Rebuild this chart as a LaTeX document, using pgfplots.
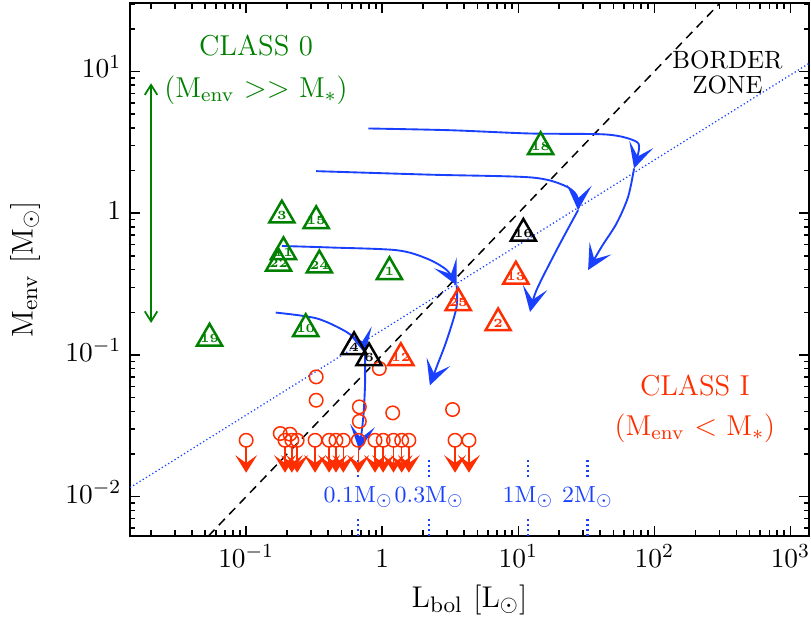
\documentclass[border=0pt]{standalone}
\usepackage{pgfplots}
\pgfplotsset{compat=1.18}
\usetikzlibrary{arrows.meta}
\definecolor{cgreen}{rgb}{0,0.5,0}
\definecolor{cred}{rgb}{1,0.18,0}
\definecolor{cblue}{rgb}{0.1,0.25,1}

\pgfdeclareplotmark{tri}{%
  \pgfpathmoveto{\pgfqpointpolar{90}{\pgfplotmarksize}}%
  \pgfpathlineto{\pgfqpointpolar{-30}{\pgfplotmarksize}}%
  \pgfpathlineto{\pgfqpointpolar{210}{\pgfplotmarksize}}%
  \pgfpathclose\pgfusepathqstroke}

\pgfdeclareplotmark{ulim}{%
  \pgfpathcircle{\pgfpointorigin}{2.7pt}\pgfusepathqstroke
  \pgfpathmoveto{\pgfpoint{0pt}{-2.7pt}}%
  \pgfpathlineto{\pgfpoint{0pt}{-10.5pt}}\pgfusepathqstroke
  \pgfpathmoveto{\pgfpoint{0pt}{-12.4pt}}%
  \pgfpathlineto{\pgfpoint{-3.3pt}{-7.1pt}}%
  \pgfpathlineto{\pgfpoint{0pt}{-9.5pt}}%
  \pgfpathlineto{\pgfpoint{3.3pt}{-7.1pt}}%
  \pgfpathclose\pgfusepathqfillstroke}

\pgfplotstableread{
x y label
0.183 0.968 3
0.327 0.883 15
0.173 0.442 22
0.188 0.533 11
0.345 0.43 24
0.274 0.153 10
0.0538 0.131 19
14.6 2.94 18
1.13 0.386 1
}\greentri
\pgfplotstableread{
x y label
10.9 0.72 16
0.621 0.114 4
0.80 0.0953 6
}\blacktri
\pgfplotstableread{
x y label
9.6 0.359 13
3.62 0.233 25
7.11 0.168 2
1.37 0.0955 12
}\redtri
\pgfplotstableread{
x y
0.178 0.0279
0.210 0.0276
0.327 0.070
0.327 0.0479
0.952 0.0802
0.679 0.043
0.679 0.034
1.194 0.039
3.29 0.0412
}\detect
\pgfplotstableread{
x y
0.1 0.025
0.193 0.025
0.2166 0.025
0.237 0.025
0.321 0.025
0.407 0.025
0.457 0.025
0.518 0.025
0.667 0.025
0.885 0.025
1.016 0.025
1.21 0.025
1.39 0.025
1.57 0.025
3.43 0.025
4.34 0.025
}\ulims

\pgfplotsset{
  trilab/.style={only marks, mark=tri, mark size=5.8pt, mark options={line width=1pt},
    nodes near coords, point meta=explicit symbolic,
    every node near coord/.append style={anchor=center, inner sep=0pt, font=\fontsize{5}{5}\selectfont\bfseries}},
  trk/.style={cblue, line width=0.75pt, smooth, -{Stealth[length=10pt,width=10pt,inset=5pt]}},
  mm/.style={cblue, line width=0.9pt, dash pattern=on 0.8pt off 1.2pt},
}

\begin{document}
\begin{tikzpicture}
\begin{axis}[
  scale only axis, width=271.6pt, height=213.2pt,
  xmode=log, ymode=log,
  xmin=0.014, xmax=1370, ymin=0.00528, ymax=30.4,
  xtick={0.1,1,10,100,1000},
  xticklabels={$10^{-1}$,$1$,$10^{1}$,$10^{2}$,$10^{3}$},
  minor xtick={0.02,0.03,0.04,0.05,0.06,0.07,0.08,0.09,0.2,0.3,0.4,0.5,0.6,0.7,0.8,0.9,2,3,4,5,6,7,8,9,20,30,40,50,60,70,80,90,200,300,400,500,600,700,800,900},
  ytick={0.01,0.1,1,10},
  yticklabels={$10^{-2}$,$10^{-1}$,$1$,$10^{1}$},
  minor ytick={0.006,0.007,0.008,0.009,0.02,0.03,0.04,0.05,0.06,0.07,0.08,0.09,0.2,0.3,0.4,0.5,0.6,0.7,0.8,0.9,2,3,4,5,6,7,8,9,20,30},
  typeset ticklabels with strut,
  tick label style={font=\fontsize{11}{13}\selectfont},
  major tick length=4pt, minor tick length=2.2pt,
  tick style={black, line width=0.6pt},
  axis line style={line width=0.8pt},
  xlabel={$\mathrm{L_{bol}}\ [\mathrm{L}_{\odot}]$},
  ylabel={$\mathrm{M_{env}}\ [\mathrm{M}_{\odot}]$},
  label style={font=\fontsize{13}{15}\selectfont},
  xlabel style={at={(axis description cs:0.5,-0.12)}, anchor=center},
  ylabel style={at={(axis description cs:-0.1546,0.5)}, anchor=center},
]
% border lines
\addplot[black, line width=0.6pt, dash pattern=on 3.5pt off 2.5pt] coordinates {(0.0528,0.00528) (304,30.4)};
\addplot[cblue, line width=0.5pt, dash pattern=on 0.5pt off 1pt] coordinates {(0.014,0.01158) (1370,11.4)};

% class 0 arrow
\addplot[cgreen, line width=0.7pt, {Straight Barb[length=4pt,width=5pt]}-{Straight Barb[length=4pt,width=5pt]}] coordinates {(0.02,8.26) (0.02,0.168)};

% evolutionary tracks
\addplot[trk] coordinates {(0.79,3.96) (3.15,3.85) (12.2,3.65) (44.5,3.59) (71.8,3.24) (77.2,2.86) (71,2.07)};
\addplot[trk] coordinates {(71,2.07) (64.1,1.30) (52.7,0.845) (40.9,0.578) (32.6,0.397)};
\addplot[trk] coordinates {(0.327,1.98) (2.24,1.87) (12.2,1.79) (21.4,1.58) (26.8,1.34) (27.5,1.05)};
\addplot[trk] coordinates {(27.5,1.05) (19.1,0.548) (13.6,0.286) (12.2,0.201)};
\addplot[trk] coordinates {(0.183,0.587) (0.414,0.573) (1.28,0.548) (2.12,0.479) (2.98,0.397) (3.52,0.31)};
\addplot[trk] coordinates {(3.52,0.31) (3.52,0.218) (2.98,0.127) (2.51,0.0822) (2.24,0.061)};
\addplot[trk] coordinates {(0.165,0.199) (0.33,0.181) (0.548,0.145) (0.70,0.118) (0.748,0.102)};
\addplot[trk] coordinates {(0.748,0.102) (0.748,0.0628) (0.726,0.0365) (0.679,0.0212)};

% mass markers
\addplot[mm] coordinates {(0.667,0.0137) (0.667,0.0181)};
\addplot[mm] coordinates {(0.667,0.00528) (0.667,0.00716)};
\addplot[mm] coordinates {(2.22,0.0137) (2.22,0.0181)};
\addplot[mm] coordinates {(2.22,0.00528) (2.22,0.00716)};
\addplot[mm] coordinates {(11.8,0.0137) (11.8,0.0181)};
\addplot[mm] coordinates {(11.8,0.00528) (11.8,0.00716)};
\addplot[mm] coordinates {(32.3,0.0137) (32.3,0.0181)};
\addplot[mm] coordinates {(32.3,0.00528) (32.3,0.00716)};
\node[cblue, inner sep=0pt, font=\fontsize{9.3}{11}\selectfont] at (axis cs:0.667,0.01) {0.1M$_\odot$};
\node[cblue, inner sep=0pt, font=\fontsize{9.3}{11}\selectfont] at (axis cs:2.22,0.01) {0.3M$_\odot$};
\node[cblue, inner sep=0pt, font=\fontsize{9.3}{11}\selectfont] at (axis cs:11.8,0.01) {1M$_\odot$};
\node[cblue, inner sep=0pt, font=\fontsize{9.3}{11}\selectfont] at (axis cs:32.3,0.01) {2M$_\odot$};

% class I circles
\addplot[only marks, cred, mark=o, mark size=2.7pt, mark options={line width=0.6pt}] table[x=x,y=y] {\detect};
\addplot[only marks, cred, mark=ulim, mark options={line width=0.6pt}] table[x=x,y=y] {\ulims};

% triangles
\addplot[cgreen, trilab] table[x=x,y=y,meta=label] {\greentri};
\addplot[black, trilab] table[x=x,y=y,meta=label] {\blacktri};
\addplot[cred, trilab] table[x=x,y=y,meta=label] {\redtri};

% annotations
\node[cgreen, font=\fontsize{11.5}{13}\selectfont] at (axis description cs:0.1856,0.921) {CLASS 0};
\node[cgreen, font=\fontsize{11.5}{13}\selectfont] at (axis description cs:0.1856,0.837) {(M$_{\mathrm{env}}$ $>>$ M$_*$)};
\node[black, align=center, font=\fontsize{10}{10}\selectfont] at (axis description cs:0.88,0.8696) {BORDER\\ZONE};
\node[cred, font=\fontsize{11.5}{13}\selectfont] at (axis description cs:0.832,0.283) {CLASS I};
\node[cred, font=\fontsize{11.5}{13}\selectfont] at (axis description cs:0.832,0.2026) {(M$_{\mathrm{env}}$ $<$ M$_*$)};
\end{axis}
\pgfresetboundingbox
\path[use as bounding box] ([shift={(-52pt,-36pt)}]current axis.south west) rectangle ([shift={(0.8pt,1.2pt)}]current axis.north east);
\end{tikzpicture}
\end{document}
